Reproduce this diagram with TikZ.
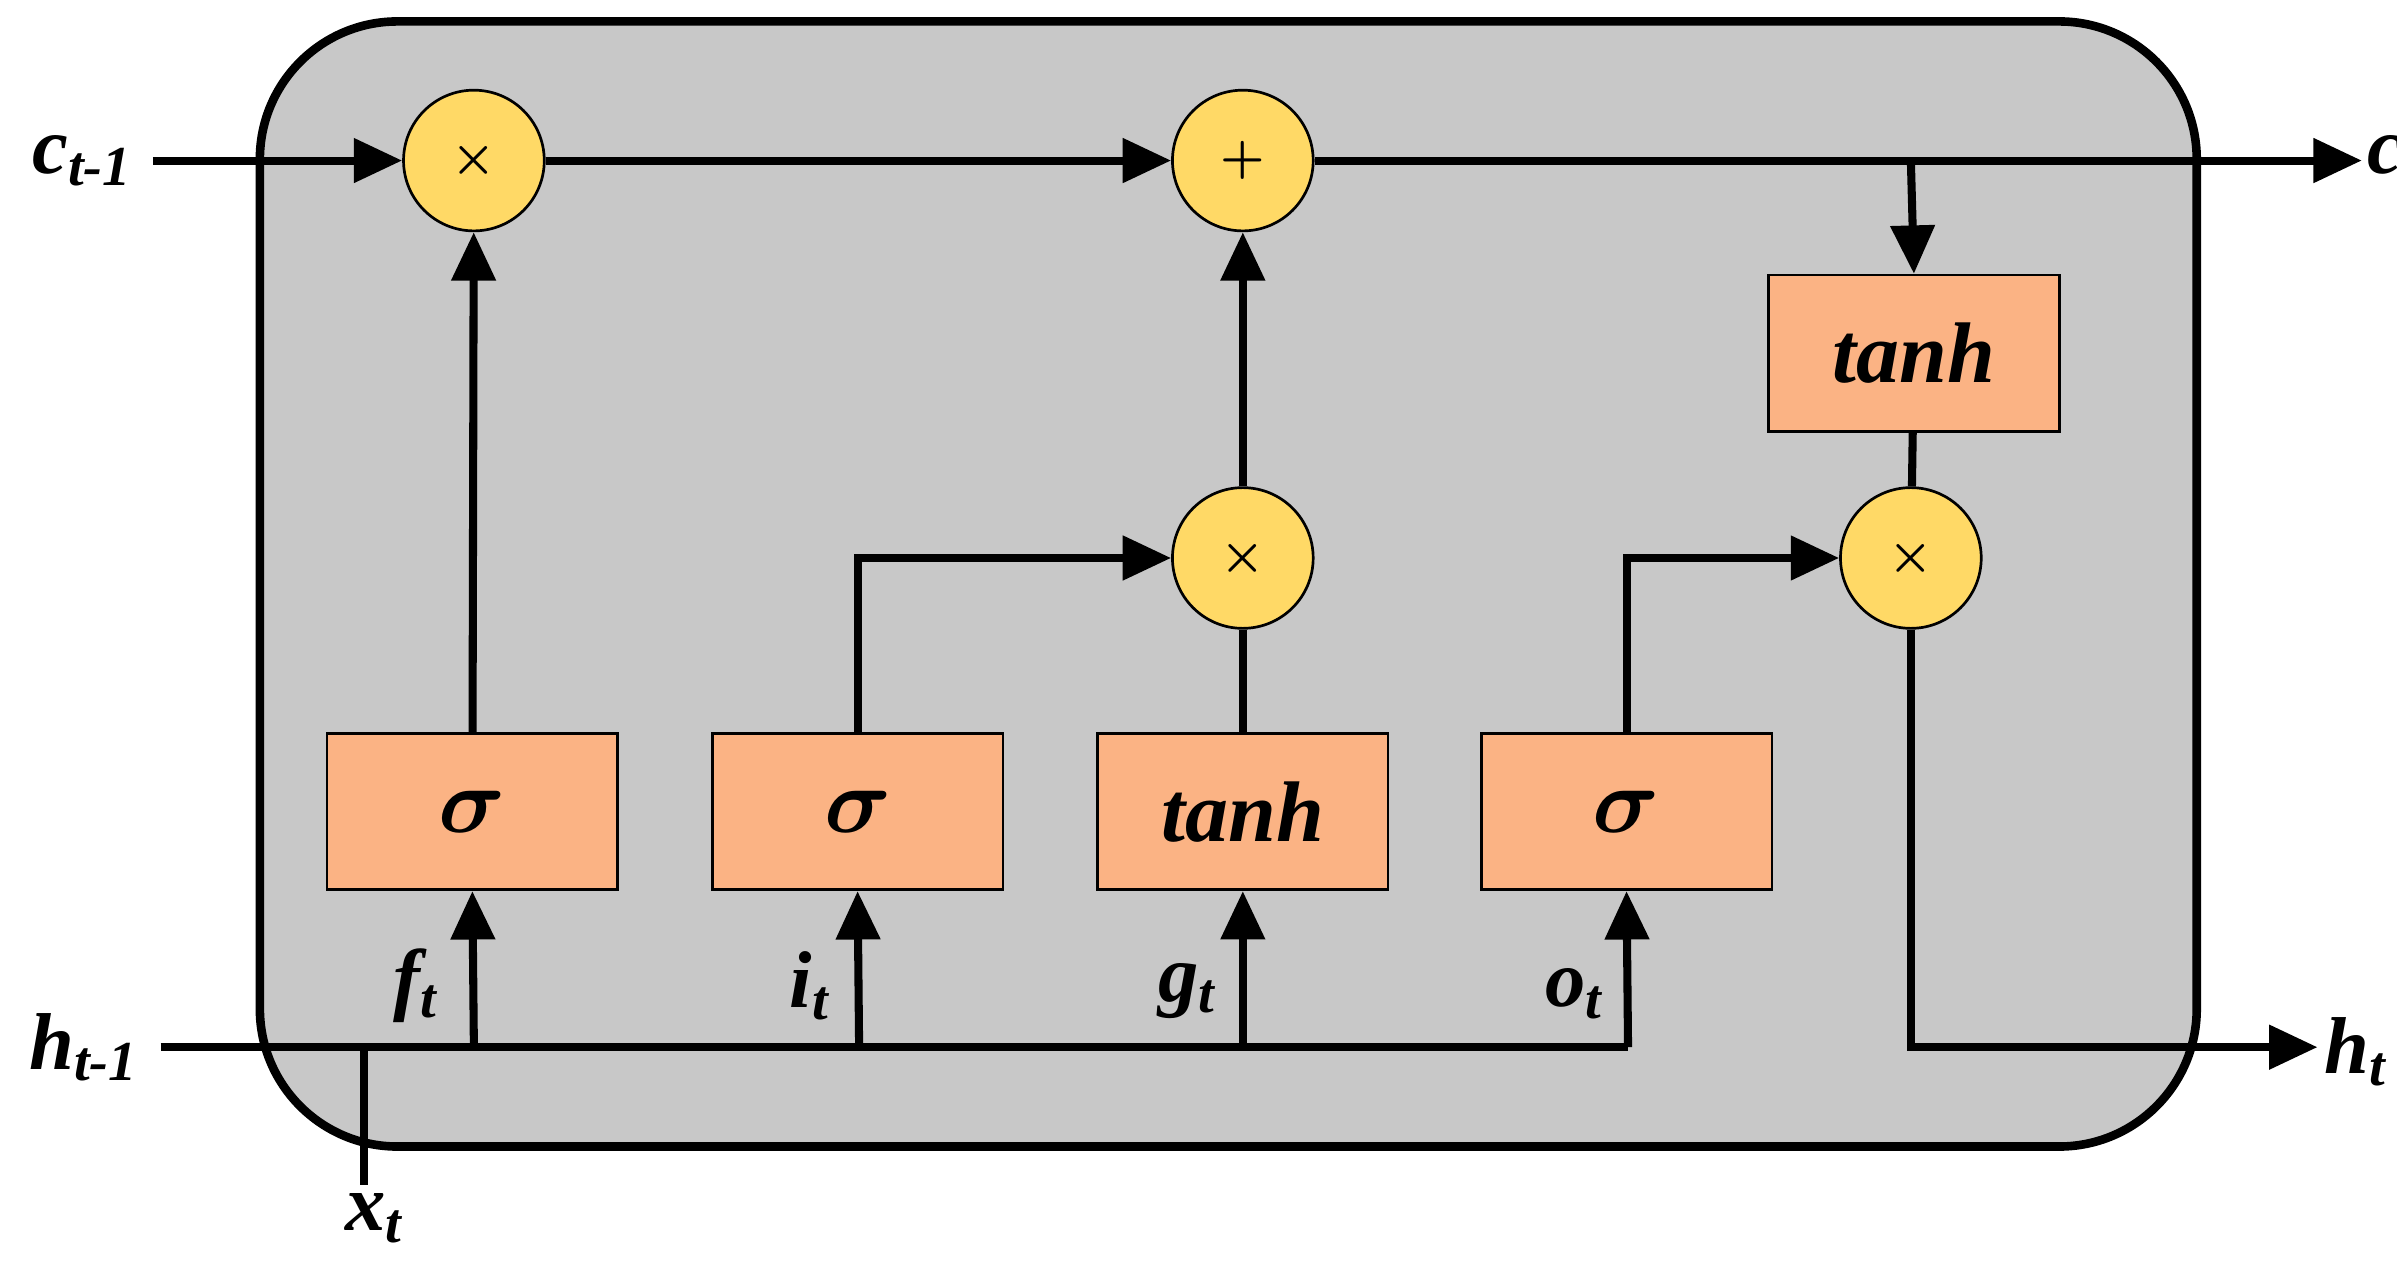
\documentclass[tikz,border=0pt]{standalone}
\usepackage{amsmath,bm}
\usepackage{fontspec}
\setmainfont{Liberation Serif}
\usetikzlibrary{arrows.meta}
\begin{document}
\begin{tikzpicture}[x=0.01cm,y=-0.01cm,
  ln/.style={line width=1.5pt},
  ar/.style={ln,-{Triangle[length=9pt,width=8pt]}},
  op/.style={circle,draw,line width=0.5pt,fill=cYel,minimum size=0.92cm,inner sep=0pt,font=\small},
  box/.style={draw,line width=0.5pt,fill=cOr,minimum width=1.9cm,minimum height=1.02cm,font=\bfseries\itshape\fontsize{16}{16}\selectfont},
  lab/.style={font=\bfseries\itshape\fontsize{15}{15}\selectfont,inner sep=0pt}]
\definecolor{cYel}{HTML}{FFD966}
\definecolor{cOr}{HTML}{FBB384}
\useasboundingbox (0,0) rectangle (1568,835);
\draw[line width=1.6pt,fill={rgb,255:red,200;green,200;blue,200},rounded corners=0.9cm] (170,14) rectangle (1437,750);
\node[op] (m1) at (310,105) {$\bm{\times}$};
\node[op] (p) at (813,105) {$\bm{+}$};
\node[op] (m2) at (813,365) {$\bm{\times}$};
\node[op] (m3) at (1250,365) {$\bm{\times}$};
\node[box] (s1) at (309,531) {$\bm{\sigma}$};
\node[box] (s2) at (561,531) {$\bm{\sigma}$};
\node[box] (tg) at (813,531) {tanh};
\node[box] (s3) at (1064,531) {$\bm{\sigma}$};
\node[box] (tc) at (1252,231) {tanh};
\node[lab,anchor=east] (cin) at (88,105) {c\textsubscript{t-1}};
\node[lab,anchor=west] (cout) at (1548,105) {c\textsubscript{t}};
\node[lab,anchor=east] (hin) at (92,685) {h\textsubscript{t-1}};
\node[lab,anchor=west] (hout) at (1520,688) {h\textsubscript{t}};
\node[lab] (xt) at (245,797) {x\textsubscript{t}};
\node[lab] at (272,645) {f\textsubscript{t}};
\node[lab] at (530,645) {i\textsubscript{t}};
\node[lab] at (777,648) {g\textsubscript{t}};
\node[lab] at (1030,650) {o\textsubscript{t}};
\coordinate (cs) at (100,105);
\coordinate (ce) at (1545,105);
\coordinate (br) at (1250,105);
\coordinate (hs) at (105,685);
\coordinate (he) at (1516,685);
\coordinate (xs) at (238,775);
\coordinate (xj) at (238,685);
\draw[ar] (cs) -- (m1);
\draw[ar] (m1) -- (p);
\draw[ar] (p) -- (ce);
\draw[ar] (br) -- (tc.north);
\draw[ln] (tc) -- (m3);
\draw[ar] (m3.south) |- (he);
\draw[ln] (hs) -- (1065,685);
\draw[ln] (xs) -- (xj);
\draw[ar] (310,685) -- (s1.south);
\draw[ar] (562,685) -- (s2.south);
\draw[ar] (813,685) -- (tg.south);
\draw[ar] (1065,685) -- (s3.south);
\draw[ar] (s1) -- (m1);
\draw[ar] (s2.north) |- (m2);
\draw[ln] (tg) -- (m2);
\draw[ar] (m2) -- (p);
\draw[ar] (s3.north) |- (m3);
\end{tikzpicture}
\end{document}
